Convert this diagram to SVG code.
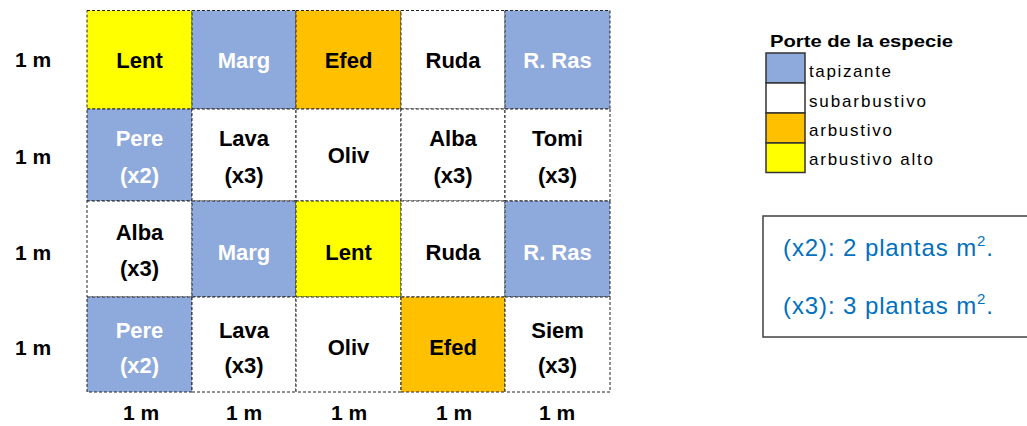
<svg xmlns="http://www.w3.org/2000/svg" width="1027" height="426" viewBox="0 0 1027 426">
<style>
.cell{stroke:#222;stroke-width:1;stroke-dasharray:3,2}
.b{fill:#8EA9DB}.w{fill:#FFFFFF}.o{fill:#FFC000}.y{fill:#FFFF00}
.t{font-family:"Liberation Sans",Arial,sans-serif;font-weight:bold;font-size:22px;text-anchor:middle;fill:#000}
.tw{fill:#FFFFFF}
.lab{font-family:"Liberation Sans",Arial,sans-serif;font-weight:bold;font-size:21px;text-anchor:middle;fill:#000}
.lg{font-family:"Liberation Sans",Arial,sans-serif;font-size:17px;fill:#000}
.sw{stroke:#333;stroke-width:1.5}
.note{font-family:"Liberation Sans",Arial,sans-serif;font-size:24px;letter-spacing:0.9px;fill:#0070C0}
</style>
<rect width="1027" height="426" fill="#FFFFFF"/>
<g id="row-labels">
<text class="lab" x="33" y="67">1 m</text>
<text class="lab" x="33" y="164">1 m</text>
<text class="lab" x="33" y="260">1 m</text>
<text class="lab" x="33" y="355">1 m</text>
</g>
<g id="col-labels">
<text class="lab" x="141" y="420">1 m</text>
<text class="lab" x="244" y="420">1 m</text>
<text class="lab" x="349" y="420">1 m</text>
<text class="lab" x="454" y="420">1 m</text>
<text class="lab" x="557" y="420">1 m</text>
</g>
<g id="r1c1"><rect class="cell y" x="87" y="10.5" width="105" height="98.5"/><text class="t" x="139.5" y="68">Lent</text></g>
<g id="r1c2"><rect class="cell b" x="192" y="10.5" width="104" height="98.5"/><text class="t tw" x="244" y="68">Marg</text></g>
<g id="r1c3"><rect class="cell o" x="296" y="10.5" width="105" height="98.5"/><text class="t" x="348.5" y="68">Efed</text></g>
<g id="r1c4"><rect class="cell w" x="401" y="10.5" width="104" height="98.5"/><text class="t" x="453" y="68">Ruda</text></g>
<g id="r1c5"><rect class="cell b" x="505" y="10.5" width="105" height="98.5"/><text class="t tw" x="557.5" y="68">R. Ras</text></g>

<g id="r2c1"><rect class="cell b" x="87" y="109" width="105" height="92"/><text class="t tw" x="139.5" y="146">Pere</text><text class="t tw" x="139.5" y="183">(x2)</text></g>
<g id="r2c2"><rect class="cell w" x="192" y="109" width="104" height="92"/><text class="t" x="244" y="146">Lava</text><text class="t" x="244" y="183">(x3)</text></g>
<g id="r2c3"><rect class="cell w" x="296" y="109" width="105" height="92"/><text class="t" x="348.5" y="163">Oliv</text></g>
<g id="r2c4"><rect class="cell w" x="401" y="109" width="104" height="92"/><text class="t" x="453" y="146">Alba</text><text class="t" x="453" y="183">(x3)</text></g>
<g id="r2c5"><rect class="cell w" x="505" y="109" width="105" height="92"/><text class="t" x="557.5" y="146">Tomi</text><text class="t" x="557.5" y="183">(x3)</text></g>

<g id="r3c1"><rect class="cell w" x="87" y="201" width="105" height="96"/><text class="t" x="139.5" y="240">Alba</text><text class="t" x="139.5" y="276">(x3)</text></g>
<g id="r3c2"><rect class="cell b" x="192" y="201" width="104" height="96"/><text class="t tw" x="244" y="260">Marg</text></g>
<g id="r3c3"><rect class="cell y" x="296" y="201" width="105" height="96"/><text class="t" x="348.5" y="260">Lent</text></g>
<g id="r3c4"><rect class="cell w" x="401" y="201" width="104" height="96"/><text class="t" x="453" y="260">Ruda</text></g>
<g id="r3c5"><rect class="cell b" x="505" y="201" width="105" height="96"/><text class="t tw" x="557.5" y="260">R. Ras</text></g>

<g id="r4c1"><rect class="cell b" x="87" y="297" width="105" height="95"/><text class="t tw" x="139.5" y="338">Pere</text><text class="t tw" x="139.5" y="373">(x2)</text></g>
<g id="r4c2"><rect class="cell w" x="192" y="297" width="104" height="95"/><text class="t" x="244" y="338">Lava</text><text class="t" x="244" y="373">(x3)</text></g>
<g id="r4c3"><rect class="cell w" x="296" y="297" width="105" height="95"/><text class="t" x="348.5" y="355">Oliv</text></g>
<g id="r4c4"><rect class="cell o" x="401" y="297" width="104" height="95"/><text class="t" x="453" y="355">Efed</text></g>
<g id="r4c5"><rect class="cell w" x="505" y="297" width="105" height="95"/><text class="t" x="557.5" y="338">Siem</text><text class="t" x="557.5" y="373">(x3)</text></g>

<g id="legend">
<text class="lg" x="770" y="47" font-weight="bold" font-size="17" textLength="183" lengthAdjust="spacingAndGlyphs">Porte de la especie</text>
<rect class="sw b" x="766" y="53" width="39" height="30"/>
<rect class="sw w" x="766" y="83" width="39" height="30"/>
<rect class="sw o" x="766" y="113" width="39" height="30"/>
<rect class="sw y" x="766" y="143" width="39" height="29.5"/>
<text class="lg" x="809" y="77" textLength="82" lengthAdjust="spacing">tapizante</text>
<text class="lg" x="809" y="107" textLength="117" lengthAdjust="spacing">subarbustivo</text>
<text class="lg" x="809" y="136" textLength="83" lengthAdjust="spacing">arbustivo</text>
<text class="lg" x="809" y="165" textLength="124" lengthAdjust="spacing">arbustivo alto</text>
</g>
<g id="note">
<rect x="763" y="216" width="270" height="121" fill="#FFFFFF" stroke="#404040" stroke-width="1.5"/>
<text class="note" x="783" y="256">(x2): 2 plantas m<tspan font-size="15" dy="-10">2</tspan><tspan dy="10">.</tspan></text>
<text class="note" x="783" y="314">(x3): 3 plantas m<tspan font-size="15" dy="-10">2</tspan><tspan dy="10">.</tspan></text>
</g>
</svg>
